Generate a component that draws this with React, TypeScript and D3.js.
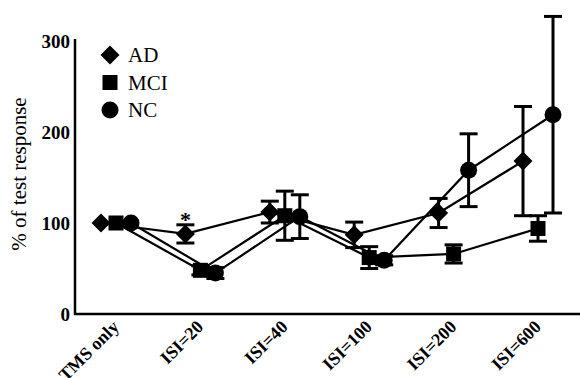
import * as d3 from 'd3';

const categories = ['TMS only', 'ISI=20', 'ISI=40', 'ISI=100', 'ISI=200', 'ISI=600'];
const groups = ['AD', 'MCI', 'NC'];

const adMean = [100, 88, 112, 87, 111, 168];
const adErr = [0, 10, 12, 14, 16, 60];
const mciMean = [100, 48, 108, 62, 66, 94];
const mciErr = [0, 5, 27, 12, 10, 14];
const ncMean = [100, 45, 107, 59, 158, 219];
const ncErr = [0, 6, 24, 5, 40, 108];

const yTicks = [0, 100, 200, 300];

const series = [
  { name: 'AD', shape: 'diamond', mean: adMean, err: adErr, offset: -15 },
  { name: 'MCI', shape: 'square', mean: mciMean, err: mciErr, offset: 0 },
  { name: 'NC', shape: 'circle', mean: ncMean, err: ncErr, offset: 15 },
];

const font = 'Liberation Serif';

function marker(shape: string, cx: number, cy: number, key: string) {
  if (shape === 'diamond') {
    const r = 9.5;
    return <path key={key} d={`M${cx},${cy - r}L${cx + r},${cy}L${cx},${cy + r}L${cx - r},${cy}Z`} fill="#000" />;
  }
  if (shape === 'square') {
    const r = 7.5;
    return <rect key={key} x={cx - r} y={cy - r} width={r * 2} height={r * 2} fill="#000" />;
  }
  return <circle key={key} cx={cx} cy={cy} r={8.5} fill="#000" />;
}

export default function App() {
  const width = 580;
  const height = 378;

  const x = d3.scalePoint<string>().domain(categories).range([116, 538]);
  const y = d3.scaleLinear().domain([0, 300]).range([314, 41]);

  const line = d3.line<[number, number]>().x(d => d[0]).y(d => d[1]);

  return (
    <svg width={width} height={height} style={{ position: 'absolute', left: 0, top: 0, background: '#fff' }}>
      {/* axes */}
      <line x1={75} x2={75} y1={y(300) - 2} y2={y(0) + 1} stroke="#000" strokeWidth={2.5} />
      <line x1={74} x2={580} y1={y(0)} y2={y(0)} stroke="#000" strokeWidth={2.5} />
      {yTicks.map(t => (
        <text key={t} x={70} y={y(t)} dy="0.35em" textAnchor="end" style={{ fontFamily: font, fontWeight: 'bold', fontSize: 19 }}>
          {t}
        </text>
      ))}
      <text
        transform={`translate(26,${174}) rotate(-90)`}
        textAnchor="middle"
        style={{ fontFamily: font, fontSize: 21 }}
      >
        % of test response
      </text>
      {categories.map(c => (
        <text
          key={c}
          transform={`translate(${(x(c) ?? 0) + 4},${328}) rotate(-45)`}
          textAnchor="end"
          style={{ fontFamily: font, fontWeight: 'bold', fontSize: 18 }}
        >
          {c}
        </text>
      ))}

      {/* lines */}
      {series.map(s => (
        <path
          key={'l' + s.name}
          d={line(categories.map((c, i) => [(x(c) ?? 0) + s.offset, y(s.mean[i])])) ?? ''}
          fill="none"
          stroke="#000"
          strokeWidth={2.2}
        />
      ))}

      {/* error bars */}
      {series.map(s =>
        categories.map((c, i) => {
          if (!s.err[i]) return null;
          const cx = (x(c) ?? 0) + s.offset;
          const top = y(s.mean[i] + s.err[i]);
          const bot = y(s.mean[i] - s.err[i]);
          const cw = 9;
          return (
            <g key={'e' + s.name + i} stroke="#000" strokeWidth={3}>
              <line x1={cx} x2={cx} y1={top} y2={bot} />
              <line x1={cx - cw} x2={cx + cw} y1={top} y2={top} />
              <line x1={cx - cw} x2={cx + cw} y1={bot} y2={bot} />
            </g>
          );
        })
      )}

      {/* markers */}
      {series.map(s =>
        categories.map((c, i) => marker(s.shape, (x(c) ?? 0) + s.offset, y(s.mean[i]), 'm' + s.name + i))
      )}

      {/* significance */}
      <text x={(x('ISI=20') ?? 0) - 15} y={y(adMean[1] + adErr[1]) + 2} textAnchor="middle" style={{ fontFamily: font, fontWeight: 'bold', fontSize: 22 }}>
        *
      </text>

      {/* legend */}
      {series.map((s, i) => (
        <g key={'lg' + s.name}>
          {marker(s.shape, 110, 55 + i * 27.5, 'lm' + s.name)}
          <text x={128} y={55 + i * 27.5} dy="0.35em" style={{ fontFamily: font, fontSize: 21 }}>
            {groups[i]}
          </text>
        </g>
      ))}
    </svg>
  );
}
